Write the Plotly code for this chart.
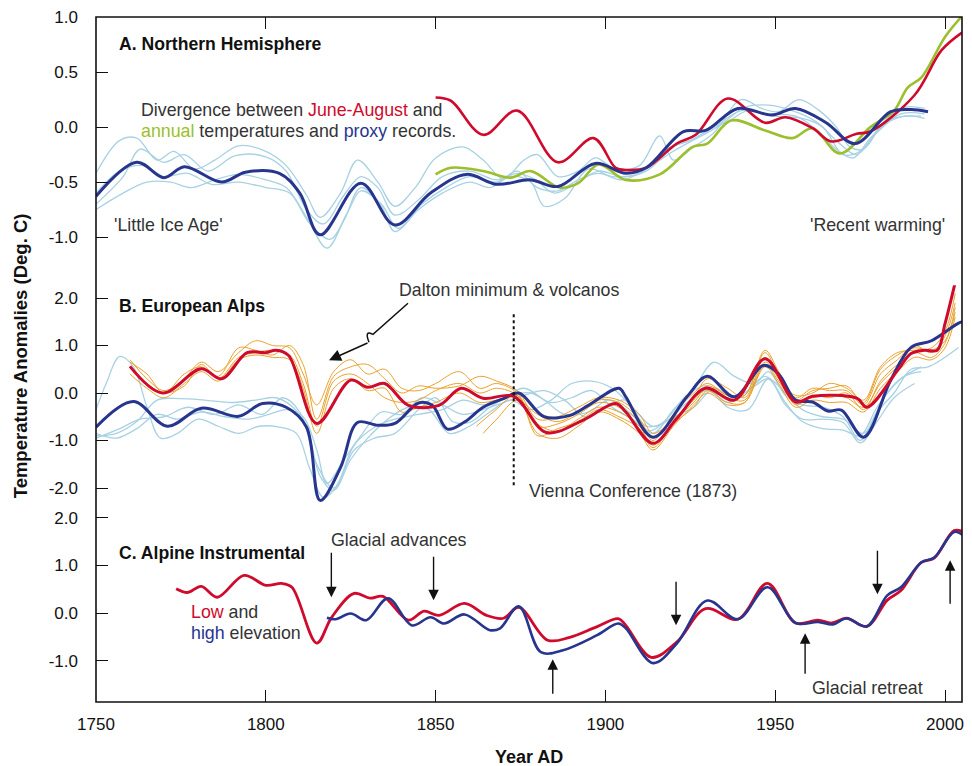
import plotly.graph_objects as go

# ---------------- Panel A: Northern Hemisphere ----------------
a_proxy_x = [1750, 1762, 1770, 1776, 1787, 1794, 1804, 1810, 1816, 1828, 1838, 1848.5, 1859, 1868, 1878, 1886, 1897, 1906, 1912, 1923, 1929.5, 1939, 1949, 1956, 1965, 1973.5, 1984, 1990, 1995]
a_proxy_y = [-0.63, -0.32, -0.46, -0.36, -0.50, -0.41, -0.42, -0.60, -0.98, -0.51, -0.89, -0.60, -0.43, -0.52, -0.48, -0.54, -0.33, -0.42, -0.37, -0.04, -0.03, 0.17, 0.11, 0.17, 0.04, -0.15, 0.14, 0.16, 0.14]

a_jja_x = [1850, 1854.5, 1864, 1874, 1886, 1896.5, 1903, 1906, 1912, 1921, 1926.6, 1936, 1947, 1953, 1961, 1966.5, 1974, 1978, 1991, 1999, 2005]
a_jja_y = [0.27, 0.24, -0.07, 0.15, -0.32, -0.10, -0.37, -0.39, -0.37, -0.15, -0.07, 0.26, 0.04, 0.09, -0.01, -0.13, -0.06, -0.04, 0.29, 0.70, 0.86]

a_ann_x = [1850, 1854.5, 1864, 1872, 1878, 1886.5, 1892, 1898, 1906, 1916, 1925.7, 1930, 1937, 1947, 1955, 1961, 1969, 1978, 1985, 1989, 1993, 2000, 2005]
a_ann_y = [-0.43, -0.37, -0.40, -0.46, -0.40, -0.55, -0.51, -0.34, -0.48, -0.43, -0.18, -0.15, 0.06, -0.03, -0.10, -0.01, -0.24, 0.00, 0.15, 0.36, 0.45, 0.82, 1.01]

a_lb1_x = [1750, 1757, 1762, 1768, 1773, 1779, 1785, 1792, 1800, 1806, 1812, 1816, 1822, 1827, 1833, 1838, 1844, 1850, 1858, 1864, 1870, 1876, 1880, 1886, 1892, 1897, 1903, 1910, 1916, 1920, 1926, 1932, 1940, 1946, 1951, 1957, 1963, 1968, 1972, 1976, 1982, 1988, 1994]
a_lb1_y = [-0.42, -0.12, -0.10, -0.30, -0.22, -0.38, -0.30, -0.17, -0.22, -0.35, -0.62, -0.82, -0.60, -0.30, -0.50, -0.72, -0.55, -0.28, -0.18, -0.30, -0.47, -0.30, -0.25, -0.45, -0.40, -0.28, -0.38, -0.35, -0.08, -0.30, -0.18, -0.05, 0.25, 0.17, 0.14, 0.25, 0.15, 0.00, -0.18, -0.20, 0.05, 0.18, 0.17]
a_lb2_x = [1750, 1758, 1763, 1770, 1776, 1783, 1791, 1800, 1806, 1812, 1817, 1823, 1828, 1833, 1838, 1845, 1852, 1860, 1868, 1874, 1879, 1885, 1892, 1898, 1905, 1912, 1920, 1928, 1936, 1942, 1950, 1958, 1964, 1970, 1975, 1981, 1988, 1994]
a_lb2_y = [-0.70, -0.45, -0.20, -0.32, -0.25, -0.40, -0.26, -0.27, -0.40, -0.75, -0.88, -0.62, -0.45, -0.55, -0.80, -0.66, -0.45, -0.40, -0.48, -0.42, -0.47, -0.60, -0.50, -0.40, -0.45, -0.40, -0.18, -0.05, 0.05, 0.15, 0.10, 0.08, 0.00, -0.25, -0.22, 0.00, 0.10, 0.08]
a_lb3_x = [1750, 1758, 1765, 1772, 1778, 1785, 1792, 1800, 1806, 1812, 1818, 1823, 1828, 1834, 1838, 1845, 1852, 1860, 1866, 1872, 1878, 1882, 1888, 1895, 1902, 1910, 1918, 1925, 1932, 1940, 1948, 1956, 1962, 1968, 1973, 1978, 1985, 1993]
a_lb3_y = [-0.75, -0.60, -0.50, -0.50, -0.55, -0.48, -0.43, -0.48, -0.55, -0.82, -1.10, -0.85, -0.55, -0.72, -0.95, -0.75, -0.60, -0.50, -0.55, -0.45, -0.50, -0.72, -0.65, -0.38, -0.45, -0.42, -0.20, -0.12, 0.00, 0.15, 0.12, 0.10, -0.02, -0.20, -0.28, -0.10, 0.08, 0.10]
a_lb4_x = [1750, 1757, 1764, 1770, 1777, 1784, 1792, 1800, 1807, 1813, 1819, 1824, 1828, 1834, 1839, 1846, 1853, 1860, 1868, 1874, 1880, 1886, 1892, 1898, 1905, 1912, 1920, 1927, 1934, 1941, 1948, 1955, 1962, 1969, 1974, 1980, 1987, 1994]
a_lb4_y = [-0.60, -0.40, -0.35, -0.45, -0.42, -0.52, -0.50, -0.55, -0.60, -0.88, -1.02, -0.78, -0.58, -0.70, -0.92, -0.70, -0.55, -0.45, -0.50, -0.40, -0.55, -0.58, -0.48, -0.42, -0.48, -0.38, -0.22, -0.10, 0.02, 0.18, 0.20, 0.15, 0.05, -0.15, -0.25, -0.05, 0.12, 0.12]

# ---------------- Panel B: European Alps ----------------
b_proxy_x = [1750, 1761, 1771, 1781, 1792, 1799, 1806, 1812, 1816, 1822, 1827, 1833, 1838, 1845, 1849, 1853.5, 1858.5, 1864, 1870, 1874.5, 1882, 1889.5, 1895, 1904, 1906, 1914, 1924, 1930, 1938, 1946.5, 1951, 1956, 1961, 1965.5, 1969.5, 1976, 1984, 1990, 1996, 2004, 2006]
b_proxy_y = [-0.72, -0.18, -0.70, -0.32, -0.49, -0.22, -0.30, -0.72, -2.26, -1.57, -0.62, -0.68, -0.64, -0.21, -0.26, -0.76, -0.61, -0.30, -0.12, 0.00, -0.50, -0.47, -0.26, 0.10, -0.08, -0.93, -0.08, 0.35, -0.08, 0.58, 0.40, -0.15, -0.19, -0.38, -0.36, -0.93, 0.27, 0.96, 1.10, 1.47, 1.52]

b_jja_x = [1760, 1769.6, 1781, 1787, 1794.5, 1800, 1803, 1806.7, 1815, 1825, 1830, 1835, 1842, 1851, 1857.5, 1864, 1873, 1882.6, 1893.5, 1903, 1906, 1914, 1921, 1929.5, 1938, 1947, 1956, 1961, 1974, 1977, 1986, 1990, 1994, 1997.7, 2000, 2003]
b_jja_y = [0.56, 0.00, 0.51, 0.30, 0.85, 0.85, 0.90, 0.79, -0.64, 0.27, 0.12, 0.20, -0.26, -0.26, 0.10, -0.11, -0.07, -0.83, -0.57, -0.22, -0.40, -1.06, -0.54, 0.10, -0.15, 0.72, -0.19, -0.07, -0.11, -0.30, 0.47, 0.83, 0.90, 0.90, 1.46, 2.33]

b_or_x = [1760, 1765, 1770, 1776, 1781, 1786, 1792, 1797, 1802, 1807, 1811, 1815, 1820, 1825, 1830, 1835, 1840, 1845, 1850, 1857, 1863, 1868, 1874, 1880, 1886, 1892, 1898, 1904, 1910, 1914, 1920, 1926, 1930, 1936, 1941, 1947, 1951, 1956, 1961, 1966, 1971, 1976, 1981, 1986, 1991, 1996, 2000, 2003]
b_or1_y = [0.70, 0.30, 0.05, 0.30, 0.65, 0.45, 0.85, 1.10, 1.00, 0.95, 0.40, -0.25, 0.45, 0.70, 0.40, 0.50, 0.10, 0.05, 0.20, 0.45, 0.10, 0.20, 0.00, -0.70, -0.65, -0.45, -0.20, -0.30, -0.60, -1.00, -0.45, 0.00, 0.20, -0.05, -0.05, 0.90, 0.45, -0.10, 0.10, 0.05, 0.05, -0.25, 0.40, 0.70, 1.00, 0.85, 1.20, 1.90]
b_or2_y = [0.40, 0.10, -0.10, 0.20, 0.45, 0.25, 0.70, 0.80, 0.75, 0.70, 0.10, -0.85, 0.10, 0.30, 0.05, 0.10, -0.40, -0.30, -0.20, 0.00, -0.20, -0.15, -0.10, -0.85, -0.95, -0.70, -0.40, -0.55, -0.85, -1.20, -0.70, -0.25, 0.00, -0.25, -0.20, 0.55, 0.20, -0.30, -0.15, -0.20, -0.20, -0.40, 0.10, 0.45, 0.75, 0.70, 0.95, 1.60]
b_or3_y = [0.65, 0.40, 0.00, 0.40, 0.55, 0.35, 0.95, 0.90, 0.80, 1.00, 0.60, -0.55, 0.35, 0.55, 0.60, 0.30, 0.00, 0.15, 0.10, 0.15, 0.35, 0.25, 0.05, -0.55, -0.50, -0.30, -0.10, -0.15, -0.45, -0.85, -0.55, -0.10, 0.30, 0.10, -0.10, 0.75, 0.30, -0.05, 0.00, 0.20, 0.10, -0.15, 0.55, 0.85, 0.90, 0.95, 1.30, 2.10]
b_or4_y = [0.55, 0.20, 0.00, 0.15, 0.60, 0.30, 0.75, 0.85, 0.90, 0.80, 0.20, -0.70, 0.25, 0.40, 0.20, -0.10, -0.20, -0.15, 0.05, 0.20, 0.00, 0.10, -0.05, -0.65, -0.80, -0.55, -0.30, -0.40, -0.70, -1.10, -0.60, -0.20, 0.10, -0.10, -0.15, 0.65, 0.35, -0.25, -0.05, -0.10, 0.00, -0.35, 0.25, 0.60, 0.85, 0.75, 1.05, 1.80]
b_or5_x = [1864, 1868, 1874, 1880, 1886, 1892, 1898, 1904, 1910, 1914, 1920, 1926, 1930, 1936, 1941, 1947, 1951, 1956, 1961, 1966, 1971, 1976, 1981, 1986, 1991, 1996, 2000, 2003]
b_or5_y = [-0.85, -0.55, -0.15, -0.45, -0.60, -0.40, -0.15, -0.20, -0.55, -0.95, -0.55, -0.15, 0.15, -0.05, -0.05, 0.85, 0.35, -0.15, 0.05, 0.10, 0.15, -0.20, 0.50, 0.80, 0.95, 0.90, 1.10, 1.70]
b_or6_x = [1862, 1867, 1874, 1880, 1886, 1892, 1898, 1904, 1910, 1914, 1920, 1926, 1930, 1936, 1941, 1947, 1951, 1956, 1961, 1966, 1971, 1976, 1981, 1986]
b_or6_y = [-0.70, -0.40, -0.05, -0.90, -0.75, -0.60, -0.35, -0.50, -0.75, -1.15, -0.65, -0.30, 0.05, -0.20, -0.20, 0.60, 0.25, -0.20, -0.10, -0.05, -0.10, -0.30, 0.20, 0.55]

b_lb1_x = [1750, 1753, 1757, 1761, 1765, 1769, 1774, 1780, 1786, 1792, 1798, 1804, 1809, 1813, 1817, 1821, 1826, 1832, 1838, 1845, 1850, 1855, 1860, 1866, 1872, 1878, 1884, 1890, 1896, 1902, 1908, 1914, 1920, 1926, 1932, 1938, 1944, 1948, 1953, 1958, 1964, 1970, 1975, 1980, 1985, 1990, 1995, 2004]
b_lb1_y = [-0.35, 0.20, 0.77, 0.55, -0.30, -0.95, -0.85, -0.55, -0.70, -0.85, -0.70, -0.72, -0.85, -1.60, -2.20, -1.95, -1.20, -0.95, -0.85, -0.35, -0.10, -0.60, -0.62, -0.30, -0.05, 0.00, -0.20, -0.10, 0.05, -0.30, -0.55, -0.85, -0.35, 0.10, 0.65, 0.35, 0.20, 0.45, -0.05, -0.25, -0.30, -0.50, -1.00, -0.40, 0.00, 0.50, 0.55, 0.96]
b_lb2_x = [1750, 1756, 1762, 1768, 1775, 1782, 1790, 1797, 1803, 1808, 1812, 1816, 1820, 1825, 1830, 1836, 1842, 1848, 1854, 1860, 1866, 1872, 1878, 1884, 1890, 1896, 1902, 1908, 1914, 1920, 1926, 1932, 1938, 1944, 1948, 1953, 1958, 1964, 1970, 1975, 1980, 1986, 1993]
b_lb2_y = [-0.90, -0.85, -0.60, -0.15, -0.12, -0.15, -0.20, -0.15, -0.10, -0.30, -0.70, -1.75, -2.05, -1.40, -0.95, -0.55, -0.30, -0.35, -0.85, -0.70, -0.40, -0.15, -0.35, -0.15, 0.20, 0.25, 0.10, -0.30, -0.70, -0.50, -0.30, 0.10, -0.10, 0.15, 0.30, -0.20, -0.60, -0.75, -0.78, -0.90, -0.30, 0.25, 0.55]
b_lb3_x = [1750, 1757, 1763, 1770, 1777, 1785, 1792, 1799, 1805, 1810, 1815, 1820, 1826, 1832, 1838, 1845, 1852, 1858, 1864, 1870, 1876, 1882, 1888, 1895, 1901, 1907, 1913, 1918, 1924, 1930, 1936, 1942, 1948, 1953, 1958, 1964, 1970, 1975, 1980, 1985, 1991]
b_lb3_y = [-0.95, -0.75, -0.55, -0.50, -0.30, -0.45, -0.25, -0.45, -0.10, -0.40, -1.50, -2.00, -1.10, -0.72, -0.55, -0.45, -0.35, -0.15, -0.25, -0.10, 0.10, -0.15, -0.45, -0.40, -0.15, -0.40, -0.80, -0.55, -0.05, 0.15, -0.30, -0.35, 0.30, -0.25, -0.55, -0.55, -0.62, -1.05, -0.60, -0.10, 0.20]
b_lb4_x = [1750, 1756, 1762, 1768, 1774, 1781, 1788, 1795, 1801, 1806, 1811, 1815, 1818, 1823, 1828, 1834, 1840, 1846, 1852, 1858, 1864, 1870, 1876, 1882, 1888, 1894, 1900, 1906, 1912, 1918, 1924, 1930, 1936, 1942, 1947, 1953, 1958, 1964, 1970, 1976, 1982, 1988, 1993]
b_lb4_y = [-0.85, -0.95, -0.75, -0.45, -0.55, -0.40, -0.50, -0.55, -0.45, -0.35, -0.50, -1.20, -1.90, -1.40, -0.90, -0.40, -0.45, -0.10, -0.25, -0.45, -0.35, -0.20, -0.05, 0.05, -0.15, -0.50, -0.30, -0.15, -0.70, -0.60, -0.20, 0.05, -0.20, 0.05, 0.35, 0.00, -0.35, -0.50, -0.55, -0.85, -0.10, 0.35, 0.45]

# ---------------- Panel C: Alpine Instrumental ----------------
c_low_x = [1773.6, 1777, 1781, 1785.7, 1793.6, 1800, 1804.7, 1807.7, 1815, 1819.4, 1826, 1830.7, 1834.5, 1842, 1846.6, 1851, 1858.5, 1865, 1870, 1874.5, 1883, 1889.5, 1897.4, 1903.8, 1906, 1913.5, 1921, 1929.5, 1939, 1947.7, 1956, 1962.6, 1966.6, 1971, 1977, 1983, 1987, 1993, 1996.8, 2002.7, 2005.5]
c_low_y = [0.51, 0.43, 0.56, 0.33, 0.79, 0.58, 0.62, 0.54, -0.63, -0.09, 0.41, 0.31, 0.35, -0.15, 0.04, -0.05, 0.20, -0.05, -0.11, 0.12, -0.57, -0.51, -0.29, -0.12, -0.26, -0.93, -0.61, 0.09, -0.13, 0.62, -0.21, -0.15, -0.21, -0.11, -0.28, 0.27, 0.47, 1.06, 1.15, 1.73, 1.70]
c_high_x = [1818, 1820.5, 1825, 1829.6, 1836, 1843, 1848.5, 1852.5, 1858.5, 1866, 1869, 1874.5, 1881, 1887.5, 1897.4, 1903.8, 1906, 1914, 1921, 1930, 1939, 1947.7, 1956, 1962.6, 1967, 1971, 1977, 1983, 1987, 1993, 1996.8, 2002.7, 2005.5]
c_high_y = [-0.10, -0.13, -0.01, -0.15, 0.31, -0.26, -0.09, -0.22, -0.03, -0.36, -0.32, 0.14, -0.82, -0.78, -0.47, -0.22, -0.32, -1.05, -0.64, 0.26, -0.13, 0.54, -0.21, -0.19, -0.24, -0.11, -0.28, 0.37, 0.54, 1.06, 1.16, 1.70, 1.62]

# ---------------- Axis ticks ----------------
x_ticks = [1750, 1800, 1850, 1900, 1950, 2000]
a_ticks = [-1.0, -0.5, 0.0, 0.5, 1.0]
b_ticks = [-2.0, -1.0, 0.0, 1.0, 2.0]
c_ticks = [-1.0, 0.0, 1.0, 2.0]

RED = "#cf0a2c"
BLUE = "#27358f"
GREEN = "#9bbf2d"
LBLUE = "#a8d2e3"
ORANGE = "#e9a02c"
FONT = "Liberation Sans, Arial, sans-serif"
TS = 17.8  # annotation text size

fig = go.Figure()

def line(x, y, color, width, xa, ya):
    fig.add_trace(go.Scatter(x=x, y=y, mode="lines", xaxis=xa, yaxis=ya,
                             line=dict(color=color, width=width, shape="spline", smoothing=1.0),
                             hoverinfo="skip", showlegend=False))

# Panel A
for xs, ys in [(a_lb1_x, a_lb1_y), (a_lb2_x, a_lb2_y), (a_lb3_x, a_lb3_y), (a_lb4_x, a_lb4_y)]:
    line(xs, ys, LBLUE, 1.3, "x2", "y")
line(a_ann_x, a_ann_y, GREEN, 2.6, "x2", "y")
line(a_jja_x, a_jja_y, RED, 2.6, "x2", "y")
line(a_proxy_x, a_proxy_y, BLUE, 3, "x2", "y")

# Panel B
for xs, ys in [(b_lb1_x, b_lb1_y), (b_lb2_x, b_lb2_y), (b_lb3_x, b_lb3_y), (b_lb4_x, b_lb4_y)]:
    line(xs, ys, LBLUE, 1.3, "x", "y2")
for xs, ys in [(b_or_x, b_or1_y), (b_or_x, b_or2_y), (b_or_x, b_or3_y), (b_or_x, b_or4_y), (b_or5_x, b_or5_y), (b_or6_x, b_or6_y)]:
    line(xs, ys, ORANGE, 1.0, "x", "y2")
line(b_proxy_x, b_proxy_y, BLUE, 3, "x", "y2")
line(b_jja_x, b_jja_y, RED, 3, "x", "y2")

# Panel C
line(c_low_x, c_low_y, RED, 2.8, "x", "y3")
line(c_high_x, c_high_y, BLUE, 2.6, "x", "y3")

# plot area in screen px (page has 8px body margin; visible width ends ~964): x 96..962, y 16.7..701.7
X0, X1 = 96.0, 962.0
def px(p):
    return (p - X0) / (X1 - X0)
def py(p):
    return (701.7 - p) / 685.0

tickfont = dict(family=FONT, size=17, color="#111")
yax_common = dict(ticks="inside", ticklen=12, tickwidth=1.3, tickcolor="#111", showgrid=False,
                  zeroline=False, showline=False, tickfont=tickfont, ticklabelstandoff=17,
                  ticklabeloverflow="allow", automargin=False)

fig.update_layout(
    width=964, height=758,
    margin=dict(l=88, r=10, t=8.7, b=64.3, autoexpand=False),
    paper_bgcolor="white", plot_bgcolor="white",
    xaxis=dict(domain=[0, 1], anchor="y3", range=[1750, 2005], tickvals=x_ticks,
               ticktext=[str(v) for v in x_ticks], ticks="inside", ticklen=12, tickwidth=1.3,
               tickcolor="#111", showgrid=False, zeroline=False, showline=False,
               tickfont=tickfont, ticklabelstandoff=10, ticklabeloverflow="allow", automargin=False),
    xaxis2=dict(matches="x", anchor="y", side="top", range=[1750, 2005], tickvals=x_ticks,
                ticks="inside", ticklen=12, tickwidth=1.3, tickcolor="#111", showgrid=False,
                zeroline=False, showline=False, showticklabels=False, automargin=False),
    yaxis=dict(domain=[py(285), 1.0], anchor="x2", range=[-(285 - 126.7) / 110.0, 1.002],
               tickvals=a_ticks, ticktext=["%.1f" % v for v in a_ticks], **yax_common),
    yaxis2=dict(domain=[py(522), py(270)], anchor="x", range=[-(522 - 392.7) / 47.5, (392.7 - 270) / 47.5],
                tickvals=b_ticks, ticktext=["%.1f" % v for v in b_ticks], **yax_common),
    yaxis3=dict(domain=[0, py(505)], anchor="x", range=[-(701.7 - 612.7) / 47.7, (612.7 - 505) / 47.7],
                tickvals=c_ticks, ticktext=["%.1f" % v for v in c_ticks], **yax_common),
)

# Frame
fig.add_shape(type="rect", xref="paper", yref="paper", x0=0, x1=1, y0=0, y1=1,
              line=dict(color="#111", width=1.6), layer="above")

# Vienna conference dotted line
fig.add_shape(type="line", xref="x", yref="paper", x0=1873, x1=1873, y0=py(485), y1=py(313),
              line=dict(color="#111", width=2, dash="dot"))

# Dalton squiggle path
p = [(408, 303), (373, 334), (364, 329), (369, 342)]
path = "M %f,%f L %f,%f Q %f,%f %f,%f" % (px(p[0][0]), py(p[0][1]), px(p[1][0]), py(p[1][1]),
                                          px(p[2][0]), py(p[2][1]), px(p[3][0]), py(p[3][1]))
fig.add_shape(type="path", xref="paper", yref="paper", path=path, line=dict(color="#111", width=1.5))

def text(x, y, t, size=TS, bold=False, anchor="left", color="#333"):
    fig.add_annotation(x=x, y=y, xref="paper", yref="paper", text=("<b>%s</b>" % t) if bold else t,
                       showarrow=False, xanchor=anchor, yanchor="middle", align="left",
                       font=dict(family=FONT, size=size, color=color))

text(px(117), py(44), "A. Northern Hemisphere", 17.6, True, color="#111")
text(px(139), py(110), "Divergence between <span style='color:%s'>June-August</span> and" % RED)
text(px(139), py(131), "<span style='color:%s'>annual</span> temperatures and <span style='color:%s'>proxy</span> records." % (GREEN, BLUE))
text(px(112), py(225), "'Little Ice Age'")
text(px(947), py(225), "'Recent warming'", anchor="right")
text(px(117), py(306), "B. European Alps", 17.6, True, color="#111")
text(px(397), py(290), "Dalton minimum &amp; volcanos")
text(px(527), py(491), "Vienna Conference (1873)")
text(px(117), py(553), "C. Alpine Instrumental", 17.6, True, color="#111")
text(px(329), py(540), "Glacial advances")
text(px(189), py(612), "<span style='color:%s'>Low</span> and" % RED)
text(px(189), py(633), "<span style='color:%s'>high</span> elevation" % BLUE)
text(px(810), py(688), "Glacial retreat")

# Axis titles
fig.add_annotation(x=px(20), y=py(356), xref="paper", yref="paper", text="<b>Temperature Anomalies (Deg. C)</b>",
                   textangle=-90, showarrow=False, xanchor="center", yanchor="middle",
                   font=dict(family=FONT, size=18.5, color="#111"))
fig.add_annotation(x=px(529), y=py(757), xref="paper", yref="paper", text="<b>Year AD</b>",
                   showarrow=False, xanchor="center", yanchor="middle",
                   font=dict(family=FONT, size=18, color="#111"))

# Dalton arrow head
fig.add_annotation(x=px(329), y=py(360), xref="paper", yref="paper", text="", showarrow=True,
                   ax=40, ay=-18, arrowhead=2, arrowsize=1.6, arrowwidth=1.5, arrowcolor="#111")

# Glacial arrows (year, tip pixel y, tail offset)
arrow_years = [1819.3, 1849.4, 1884.5, 1920.8, 1958.8, 1980.1, 2001.5]
arrow_tip_py = [597, 600, 659, 625, 633, 594, 560]
arrow_dy = [-46, -45, 36, -45, 42, -45, 45]
for ax_year, tip, dy in zip(arrow_years, arrow_tip_py, arrow_dy):
    fig.add_annotation(x=ax_year, y=py(tip), xref="x", yref="paper", text="", showarrow=True,
                       ax=0, ay=dy, arrowhead=2, arrowsize=1.5, arrowwidth=1.4, arrowcolor="#111")

fig.write_html("out.html")
